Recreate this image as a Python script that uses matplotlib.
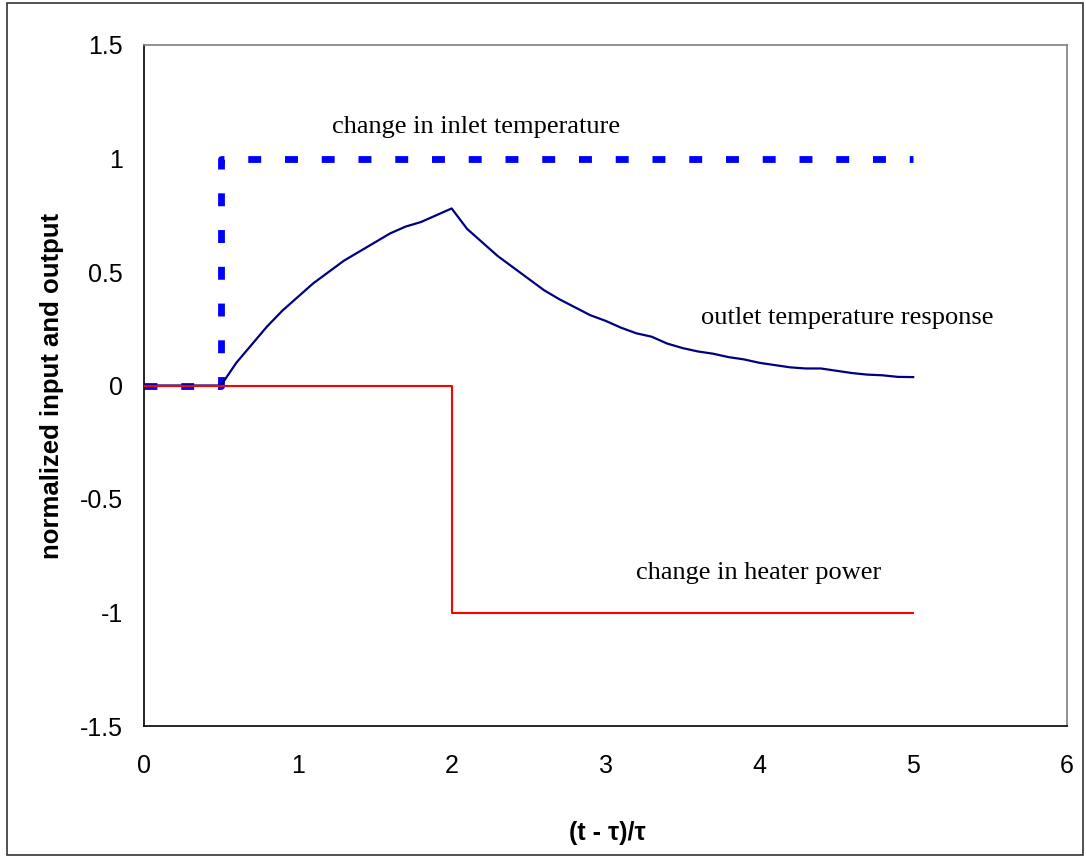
import numpy as np
import matplotlib
matplotlib.use("Agg")
import matplotlib.pyplot as plt
from matplotlib.patches import Rectangle

# step inputs (normalized)
inlet_t = [0.0, 0.5, 0.5, 5.0]
inlet_y = [0.0, 0.0, 1.0, 1.0]
heater_t = [0.0, 2.0, 2.0, 5.0]
heater_y = [0.0, 0.0, -1.0, -1.0]

# outlet temperature response
outlet_t = [0.0, 0.1, 0.2, 0.3, 0.4, 0.5, 0.6, 0.7, 0.8, 0.9, 1.0,
            1.1, 1.2, 1.3, 1.4, 1.5, 1.6, 1.7, 1.8, 1.9, 2.0,
            2.1, 2.2, 2.3, 2.4, 2.5, 2.6, 2.7, 2.8, 2.9, 3.0,
            3.1, 3.2, 3.3, 3.4, 3.5, 3.6, 3.7, 3.8, 3.9, 4.0,
            4.1, 4.2, 4.3, 4.4, 4.5, 4.6, 4.7, 4.8, 4.9, 5.0]
outlet_y = [0.0, 0.0, 0.0, 0.0, 0.0, 0.0, 0.10, 0.18, 0.26, 0.33, 0.39,
            0.45, 0.50, 0.55, 0.59, 0.63, 0.67, 0.70, 0.72, 0.75, 0.78,
            0.69, 0.63, 0.57, 0.52, 0.47, 0.42, 0.38, 0.345, 0.31, 0.285,
            0.255, 0.23, 0.215, 0.185, 0.165, 0.15, 0.14, 0.125, 0.115, 0.10,
            0.09, 0.08, 0.075, 0.075, 0.065, 0.055, 0.048, 0.045, 0.038, 0.037]

xticks = [0, 1, 2, 3, 4, 5, 6]
yticks = [-1.5, -1, -0.5, 0, 0.5, 1, 1.5]
ytick_labels = ["-1.5", "-1", "-0.5", "0", "0.5", "1", "1.5"]

W, H = 1086, 858
fig = plt.figure(figsize=(W / 100, H / 100), dpi=100)
fig.patch.set_facecolor("white")

# outer chart border
fig.patches.append(Rectangle((7 / W, 3 / H), (1083 - 7) / W, (855 - 3) / H,
                             transform=fig.transFigure, fill=False,
                             edgecolor="#333333", linewidth=1.2))

ax = fig.add_axes([144 / W, (H - 726) / H, (1067 - 144) / W, (726 - 45) / H])

ax.plot(inlet_t, inlet_y, color="#0000FF", linewidth=4.9,
        linestyle=(0, (1.9, 3.5)), solid_capstyle="butt", zorder=2)
ax.plot(outlet_t, outlet_y, color="#000080", linewidth=1.6, zorder=3)
ax.plot(heater_t, heater_y, color="#FF0000", linewidth=1.5, zorder=4)

ax.set_xlim(0, 6)
ax.set_ylim(-1.5, 1.5)
ax.set_xticks(xticks)
ax.set_yticks(yticks)
ax.set_yticklabels(ytick_labels)

sans = "Liberation Sans"
serif = "Liberation Serif"
ax.tick_params(axis="both", length=0, labelsize=18)
ax.tick_params(axis="y", pad=15)
ax.tick_params(axis="x", pad=20)
for lab in ax.get_xticklabels() + ax.get_yticklabels():
    lab.set_fontfamily(sans)

for side in ["left", "bottom"]:
    ax.spines[side].set_color("black")
    ax.spines[side].set_linewidth(1.2)
for side in ["top", "right"]:
    ax.spines[side].set_color("#808080")
    ax.spines[side].set_linewidth(1.2)

ax.set_xlabel("(t - \u03c4)/\u03c4", fontsize=18, fontweight="bold", family=sans)
ax.xaxis.set_label_coords(0.5016, -0.157)
ax.xaxis.label.set_verticalalignment("center")
ax.set_ylabel("normalized input and output", fontsize=18.5, fontweight="bold", family=sans)
ax.yaxis.set_label_coords(-0.0997, 0.499)
ax.yaxis.label.set_verticalalignment("center")

ax.text(1.22, 1.112, "change in inlet temperature", family=serif, fontsize=19,
        va="baseline", ha="left")
ax.text(3.62, 0.273, "outlet temperature response", family=serif, fontsize=19,
        va="baseline", ha="left")
ax.text(3.20, -0.853, "change in heater power", family=serif, fontsize=19,
        va="baseline", ha="left")

fig.savefig("out.png", dpi=100)
